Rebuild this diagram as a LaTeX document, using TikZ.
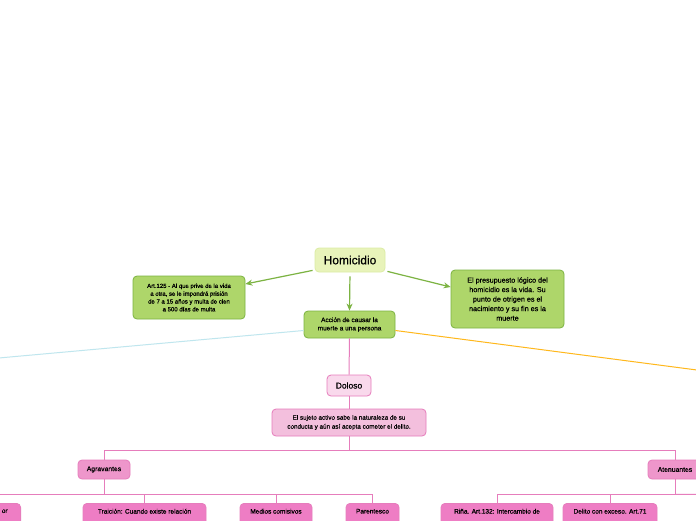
\documentclass[tikz,border=0pt]{standalone}
\usepackage{fontspec}
\setmainfont{Liberation Sans}[FakeBold=0.6]
\usetikzlibrary{arrows.meta,positioning}
\definecolor{mmlima}   {RGB}{232,243,186}
\definecolor{mmlimab}  {RGB}{220,236,165}
\definecolor{mmverde}  {RGB}{174,214,106}
\definecolor{mmverdeb} {RGB}{124,179, 66}
\definecolor{mmrosa1}  {RGB}{249,217,236}
\definecolor{mmrosa2}  {RGB}{243,191,221}
\definecolor{mmrosa3}  {RGB}{238,150,203}
\definecolor{mmrosa4}  {RGB}{238,125,196}
\definecolor{mmrosab}  {RGB}{230,125,188}
\definecolor{mmcian}   {RGB}{191,230,238}
\definecolor{mmnaranja}{RGB}{255,184, 28}
\tikzset{
  caja/.style={rounded corners=4pt,align=center,inner sep=2pt,
               text=black,line width=0.8pt},
  raiz/.style={caja,draw=mmlimab,fill=mmlima,
               minimum width=70,minimum height=24,
               font=\fontsize{12}{14}\selectfont},
  verde/.style={caja,draw=mmverdeb,fill=mmverde},
  rosa/.style={caja,draw=mmrosab,fill=mmrosa2},
  tipo/.style={caja,draw=mmrosab,fill=mmrosa1,
               minimum width=44,minimum height=21,
               font=\fontsize{8.5}{10}\selectfont},
  clase/.style={caja,draw=mmrosab,fill=mmrosa3,
                minimum width=52,minimum height=19,
                font=\fontsize{6.8}{8}\selectfont},
  hoja/.style={caja,draw=mmrosab,fill=mmrosa4,anchor=north,
               minimum height=26,inner ysep=3pt,
               font=\fontsize{6.5}{8}\selectfont},
  flecha/.style={-{Stealth[length=7pt,width=6pt]},line width=1.2pt,
                 color=mmverdeb},
  rama/.style={draw=mmrosab,line width=1pt},
}
\begin{document}
\begin{tikzpicture}[x=1pt,y=-1pt]
\clip (0,0) rectangle (696,520);
\fill[white] (0,0) rectangle (696,520);

% centro
\node[raiz] (homicidio) at (350,260) {Homicidio};
\node[verde,minimum width=112,minimum height=43,
      font=\fontsize{6}{7.8}\selectfont] (articulo) at (189,297.5)
  {Art.125 - Al que prive de la vida\\a otra, se le impondrá prisión\\
   de 7 a 15 años y multa de cien\\a 500 días de multa};
\node[verde,minimum width=113,minimum height=58,
      font=\fontsize{7.2}{9.5}\selectfont] (presupuesto) at (507.5,299)
  {El presupuesto lógico del\\homicidio es la vida. Su\\
   punto de otrigen es el\\nacimiento y su fin es la\\muerte};
\node[verde,minimum width=91,minimum height=27,
      font=\fontsize{6.5}{8.3}\selectfont] (accion) at (349.5,324.5)
  {Acción de causar la\\muerte a una persona};

\draw[flecha] ([xshift=-2pt,yshift=2pt]homicidio.south west)
  -- ([yshift=13.5pt]articulo.east);
\draw[flecha] ([xshift=2pt,yshift=1pt]homicidio.south east)
  -- ([yshift=12pt]presupuesto.west);
\draw[flecha,shorten <=4pt] (homicidio.south) -- (accion.north);

% ramas que salen del cuadro
\coordinate (salidaizq) at (-100,366.9);
\coordinate (salidader) at (800,383.5);
\draw[mmcian,line width=1pt] ([yshift=-6pt]accion.west) -- (salidaizq);
\draw[mmnaranja,line width=1pt] ([yshift=-6pt]accion.east) -- (salidader);

% doloso
\node[tipo] (doloso) at (349,385.5) {Doloso};
\node[rosa,minimum width=154,minimum height=27,
      font=\fontsize{6.3}{9}\selectfont] (sujeto) at (349,422.5)
  {El sujeto activo sabe la naturaleza de su\\
   conducta y aún así acepta cometer el delito.};
\draw[rama] (accion.south) -- (doloso.north);
\draw[rama] (doloso.south) -- (sujeto.north);

\node[clase] (agravantes) at (104,469.5) {Agravantes};
\node[clase,minimum width=54] (atenuantes) at (675,469.5) {Atenuantes};
\draw[rama] (sujeto.south) -- ++(0,14) coordinate (bifurca)
  -| (agravantes.north);
\draw[rama] (bifurca) -| (atenuantes.north);

% hojas
\node[hoja,anchor=north east,text width=100,align=right,inner xsep=13pt]
  (primera) at (21,503) {or\\\strut};
\node[hoja,minimum width=123] (traicion) at (144.5,503)
  {Traición: Cuando existe relación\\\strut};
\node[hoja,minimum width=72] (medios) at (276,503) {Medios comisivos\\\strut};
\node[hoja,minimum width=53] (parentesco) at (372.5,503) {Parentesco\\\strut};
\node[hoja,minimum width=112] (rina) at (497,503)
  {Riña. Art.132: Intercambio de\\\strut};
\node[hoja,minimum width=94] (delito) at (610,503)
  {Delito con exceso. Art.71\\\strut};

\draw[rama] (agravantes.south) -- ++(0,15) coordinate (agr);
\foreach \h in {primera,traicion,medios,parentesco}
  \draw[rama] (agr) -| (\h.north);
\draw[rama] (atenuantes.south) -- ++(0,15) coordinate (aten);
\foreach \h in {rina,delito}
  \draw[rama] (aten) -| (\h.north);
\coordinate (fuerader) at (740,494);
\draw[rama] (aten) -- (fuerader);
\end{tikzpicture}
\end{document}
